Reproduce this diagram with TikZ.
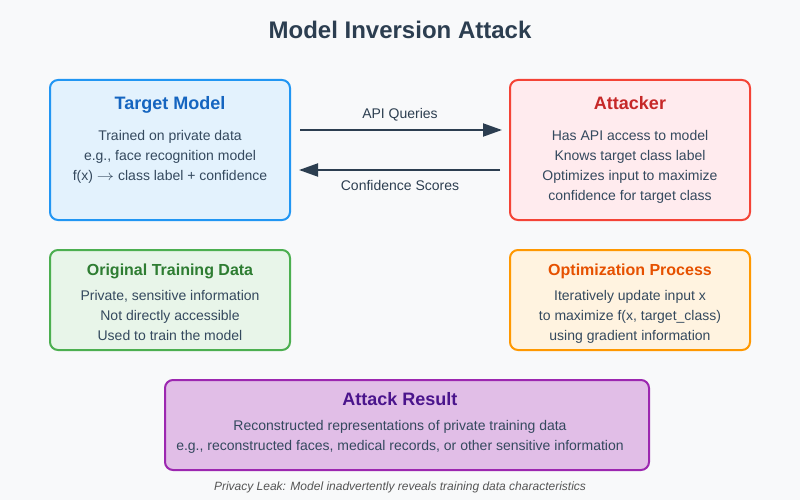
\documentclass[tikz,border=0pt]{standalone}
\usepackage{fontspec}
\setmainfont{Liberation Sans}
\usetikzlibrary{arrows.meta}
\definecolor{bgc}{HTML}{F8F9FA}
\definecolor{ink}{HTML}{2C3E50}
\definecolor{body}{HTML}{34495E}
\definecolor{foot}{HTML}{555555}
\definecolor{tmfill}{HTML}{E3F2FD}\definecolor{tmline}{HTML}{2196F3}\definecolor{tmtext}{HTML}{1565C0}
\definecolor{atfill}{HTML}{FFEBEE}\definecolor{atline}{HTML}{F44336}\definecolor{attext}{HTML}{C62828}
\definecolor{odfill}{HTML}{E8F5E9}\definecolor{odline}{HTML}{4CAF50}\definecolor{odtext}{HTML}{2E7D32}
\definecolor{opfill}{HTML}{FFF3E0}\definecolor{opline}{HTML}{FF9800}\definecolor{optext}{HTML}{E65100}
\definecolor{arfill}{HTML}{E1BEE7}\definecolor{arline}{HTML}{9C27B0}\definecolor{artext}{HTML}{4A148C}
\tikzset{
  box/.style={draw, line width=2pt, rounded corners=8pt, inner sep=0pt, outer sep=0pt},
  ttl/.style={anchor=base, inner sep=0pt, font=\fontsize{18}{20}\selectfont\bfseries},
  ttlsm/.style={anchor=base, inner sep=0pt, font=\fontsize{16}{18}\selectfont\bfseries},
  txt/.style={anchor=base, inner sep=0pt, text=body, font=\fontsize{14}{16}\selectfont},
  arr/.style={draw=ink, line width=2pt, -{Triangle[length=19pt,width=13pt]}},
}
\begin{document}
\begin{tikzpicture}[x=1pt,y=-1pt]
\fill[bgc] (0,0) rectangle (800,500);
\useasboundingbox (0,0) rectangle (800,500);
\node[anchor=base, inner sep=0pt, text=ink, font=\fontsize{24}{28}\selectfont\bfseries] (title) at (400,39) {Model Inversion Attack};

% Target Model
\node[box, fill=tmfill, draw=tmline, minimum width=240pt, minimum height=140pt] (tm) at (170,150) {};
\node[ttl, text=tmtext] (tmt) at (170,110) {Target Model};
\node[txt] (tm1) at (170,140) {Trained on private data};
\node[txt] (tm2) at (170,160) {e.g., face recognition model};
\node[txt] (tm3) at (170,180) {f(x) \scalebox{1.2}[1]{$\rightarrow$} class label + confidence};

% Attacker
\node[box, fill=atfill, draw=atline, minimum width=240pt, minimum height=140pt] (at) at (630,150) {};
\node[ttl, text=attext] (att) at (630,110) {Attacker};
\node[txt] (at1) at (630,140) {Has API access to model};
\node[txt] (at2) at (630,160) {Knows target class label};
\node[txt] (at3) at (630,180) {Optimizes input to maximize};
\node[txt] (at4) at (630,200) {confidence for target class};

% Arrows
\coordinate (q1) at (0,130);
\coordinate (q2) at (0,170);
\draw[arr, shorten <=10pt, shorten >=8pt] (tm.east |- q1) -- (at.west |- q1);
\draw[arr, shorten <=10pt, shorten >=9pt] (at.west |- q2) -- (tm.east |- q2);
\node[txt, text=ink] (lq) at (400,119) {API Queries};
\node[txt, text=ink] (lc) at (400,190) {Confidence Scores};

% Original Training Data
\node[box, fill=odfill, draw=odline, minimum width=240pt, minimum height=100pt] (od) at (170,300) {};
\node[ttlsm, text=odtext] (odt) at (170,275) {Original Training Data};
\node[txt] (od1) at (170,300) {Private, sensitive information};
\node[txt] (od2) at (170,320) {Not directly accessible};
\node[txt] (od3) at (170,340) {Used to train the model};

% Optimization Process
\node[box, fill=opfill, draw=opline, minimum width=240pt, minimum height=100pt] (op) at (630,300) {};
\node[ttlsm, text=optext] (opt) at (630,275) {Optimization Process};
\node[txt] (op1) at (630,300) {Iteratively update input x};
\node[txt] (op2) at (630,320) {to maximize f(x, target\_class)};
\node[txt] (op3) at (630,340) {using gradient information};

% Attack Result
\node[box, fill=arfill, draw=arline, minimum width=484pt, minimum height=90pt] (ar) at (407,425) {};
\node[ttl, text=artext] (art) at (400,405) {Attack Result};
\node[txt] (ar1) at (400,430) {Reconstructed representations of private training data};
\node[txt] (ar2) at (400,450) {e.g., reconstructed faces, medical records, or other sensitive information};

\node[anchor=base, inner sep=0pt, text=foot, font=\fontsize{12}{14}\selectfont\itshape] (ft) at (400,490) {Privacy Leak: Model inadvertently reveals training data characteristics};
\end{tikzpicture}
\end{document}
